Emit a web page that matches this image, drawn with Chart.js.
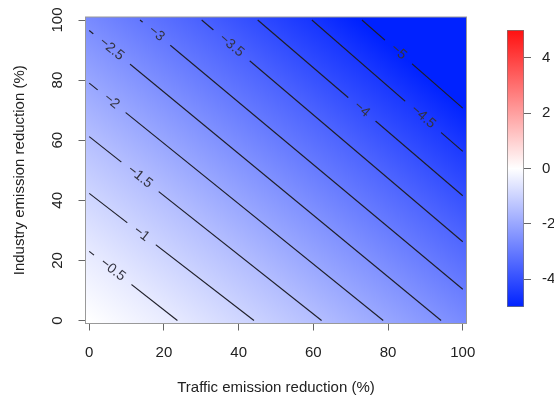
<!DOCTYPE html>
<html><head><meta charset="utf-8">
<script src="https://cdn.jsdelivr.net/npm/chart.js@4.4.1/dist/chart.umd.min.js"></script>
<style>
html,body{margin:0;padding:0;background:#fff;overflow:hidden;}
#wrap{position:relative;width:554px;height:397px;}
canvas{position:absolute;left:0;top:0;}
</style></head><body>
<div id="wrap"><canvas id="main" width="554" height="397"></canvas><canvas id="bar" width="554" height="397"></canvas></div>
<script>
// ---------- data ----------
const levels      = [-0.5, -1, -1.5, -2, -2.5, -3, -3.5, -4, -4.5, -5];
const levelLabels = ['\u22120.5','\u22121','\u22121.5','\u22122','\u22122.5','\u22123','\u22123.5','\u22124','\u22124.5','\u22125'];
// contour line end points (traffic %, industry %)
const startX = [0, 0, 0, 0, 0, 13.6, 30.1, 45.1, 59.6, 73];
const startY = [23, 42.3, 61.2, 79, 96.5, 100, 100, 100, 100, 100];
const endX   = [23.6, 44.1, 62.2, 78.7, 94.2, 100, 100, 100, 100, 100];
const endY   = [0, 0, 0, 0, 0, 10.4, 26.2, 41.5, 56.3, 70.7];
// traffic % at which each contour label sits
const labelX = [6.3, 14, 13.6, 6, 6, 18, 38.1, 73, 89.4, 82.8];
const xTicks = [0, 20, 40, 60, 80, 100];
const yTicks = [0, 20, 40, 60, 80, 100];
const barTicks = [-4, -2, 0, 2, 4];
const zLimits = [-5, 5];
const xTitle = 'Traffic emission reduction (%)';
const yTitle = 'Industry emission reduction (%)';

// ---------- styling ----------
const FONT = '"Liberation Sans", Arial, sans-serif';
Chart.defaults.font.family = FONT;
Chart.defaults.color = '#222';
const BLUE = [0, 34, 255], WHITE = [255, 255, 255], RED = [255, 16, 16];
function mix(a, b, f) { return 'rgb(' + a.map((v, i) => Math.round(v + (b[i] - v) * f)).join(',') + ')'; }
function zColor(z) {
  const t = Math.max(-1, Math.min(1, z / zLimits[1]));
  return t < 0 ? mix(WHITE, BLUE, -t) : mix(WHITE, RED, t);
}

function fieldGradient(chart) {
  const {ctx, scales: {x, y}} = chart;
  const x0 = x.getPixelForValue(0), y0 = y.getPixelForValue(0);
  const kx = x.getPixelForValue(1) - x0, ky = y0 - y.getPixelForValue(1);
  const ux = 1 / kx, uy = -1 / ky, u2 = ux * ux + uy * uy;
  const sPos = levels.map((l, i) => ((startX[i] + startY[i]) + (endX[i] + endY[i])) / 2);
  const S = sPos[sPos.length - 1];
  const g = ctx.createLinearGradient(x0, y0, x0 + ux * S / u2, y0 + uy * S / u2);
  g.addColorStop(0, zColor(0));
  levels.forEach((l, i) => g.addColorStop(Math.min(1, sPos[i] / S), zColor(l)));
  return g;
}

const fieldPlugin = {
  id: 'field',
  beforeDatasetsDraw(chart) {
    const {ctx, chartArea: a} = chart;
    ctx.save();
    ctx.fillStyle = fieldGradient(chart);
    ctx.fillRect(a.left, a.top, a.right - a.left, a.bottom - a.top);
    ctx.restore();
  },
  afterDatasetsDraw(chart) {
    const {ctx, chartArea: a, scales: {x, y}} = chart;
    const grad = fieldGradient(chart);
    ctx.font = '14px ' + FONT;
    levels.forEach((l, i) => {
      const lx = labelX[i];
      const ly = startY[i] + (lx - startX[i]) * (endY[i] - startY[i]) / (endX[i] - startX[i]);
      const px = x.getPixelForValue(lx), py = y.getPixelForValue(ly);
      const ang = Math.atan2(y.getPixelForValue(endY[i]) - y.getPixelForValue(startY[i]),
                             x.getPixelForValue(endX[i]) - x.getPixelForValue(startX[i]));
      const w = ctx.measureText(levelLabels[i]).width;
      const hg = w / 2 + 10;
      ctx.save();
      ctx.beginPath();
      ctx.rect(a.left, a.top, a.right - a.left, a.bottom - a.top);
      ctx.clip();
      ctx.translate(px, py);
      ctx.rotate(ang);
      ctx.beginPath();
      ctx.rect(-hg, -6, 2 * hg, 12);
      ctx.clip();
      ctx.setTransform(1, 0, 0, 1, 0, 0);
      ctx.fillStyle = grad;
      ctx.fillRect(a.left, a.top, a.right - a.left, a.bottom - a.top);
      ctx.restore();
      ctx.save();
      ctx.translate(px, py);
      ctx.rotate(ang);
      ctx.fillStyle = '#333340';
      ctx.textAlign = 'center';
      ctx.textBaseline = 'middle';
      ctx.fillText(levelLabels[i], 0, 0);
      ctx.restore();
    });
    ctx.save();
    ctx.strokeStyle = '#999';
    ctx.lineWidth = 1;
    ctx.strokeRect(a.left, a.top, a.right - a.left, a.bottom - a.top);
    ctx.restore();
  }
};

const datasets = levels.map((l, i) => ({
  label: levelLabels[i],
  data: [{x: startX[i], y: startY[i]}, {x: endX[i], y: endY[i]}],
  showLine: true,
  borderColor: '#1e1e28',
  borderWidth: 1.1,
  pointRadius: 0,
  fill: false
}));

new Chart(document.getElementById('main'), {
  type: 'scatter',
  data: {datasets},
  options: {
    responsive: false, animation: false, events: [],
    layout: {padding: {left: 0, top: 14, right: 87.5, bottom: 0}},
    plugins: {legend: {display: false}, tooltip: {enabled: false}},
    scales: {
      x: {
        type: 'linear', min: -1, max: 101,
        afterBuildTicks: s => { s.ticks = xTicks.map(v => ({value: v})); },
        afterFit: s => { s.height = 73.5; },
        grid: {drawOnChartArea: false, drawTicks: true, tickLength: 7, color: '#666'},
        border: {display: false},
        ticks: {padding: 13, font: {size: 15}, color: '#222', maxRotation: 0, callback: v => String(v)},
        title: {display: true, text: xTitle, font: {size: 15}, color: '#222', padding: {top: 0, bottom: 0}}
      },
      y: {
        type: 'linear', min: -1, max: 101,
        afterBuildTicks: s => { s.ticks = yTicks.map(v => ({value: v})); },
        afterFit: s => { s.width = 85.5; },
        grid: {drawOnChartArea: false, drawTicks: true, tickLength: 7, color: '#666'},
        border: {display: false},
        ticks: {padding: 8, font: {size: 15}, color: '#222', minRotation: 90, maxRotation: 90, crossAlign: 'center', callback: v => String(v)},
        title: {display: true, text: yTitle, font: {size: 15}, color: '#222', padding: {top: 11, bottom: 0}}
      }
    }
  },
  plugins: [fieldPlugin]
});

new Chart(document.getElementById('bar'), {
  type: 'bar',
  data: {labels: ['z'], datasets: [{
    data: [zLimits.slice()],
    backgroundColor: c => {
      const ch = c.chart; const sy = ch.scales.y;
      if (!ch.chartArea || !sy) return 'rgba(0,0,0,0)';
      const p0 = sy.getPixelForValue(zLimits[0]), p1 = sy.getPixelForValue(zLimits[1]);
      if (!Number.isFinite(p0) || !Number.isFinite(p1)) return 'rgba(0,0,0,0)';
      const g = ch.ctx.createLinearGradient(0, p0, 0, p1);
      g.addColorStop(0, zColor(zLimits[0]));
      g.addColorStop(0.5, zColor(0));
      g.addColorStop(1, zColor(zLimits[1]));
      return g;
    },
    borderColor: '#777', borderWidth: 1, borderSkipped: false,
    categoryPercentage: 1, barPercentage: 1
  }]},
  options: {
    responsive: false, animation: false, events: [],
    layout: {padding: {left: 507, top: 30, bottom: 90, right: 0}},
    plugins: {legend: {display: false}, tooltip: {enabled: false}},
    scales: {
      x: {display: false},
      y: {
        position: 'right', min: zLimits[0], max: zLimits[1],
        afterBuildTicks: s => { s.ticks = barTicks.map(v => ({value: v})); },
        afterFit: s => { s.width = 30; },
        grid: {drawOnChartArea: false, tickLength: 7, color: '#666'},
        border: {display: false},
        ticks: {padding: 11, font: {size: 15}, color: '#222', callback: v => String(v)}
      }
    }
  }
});
</script>
</body></html>
